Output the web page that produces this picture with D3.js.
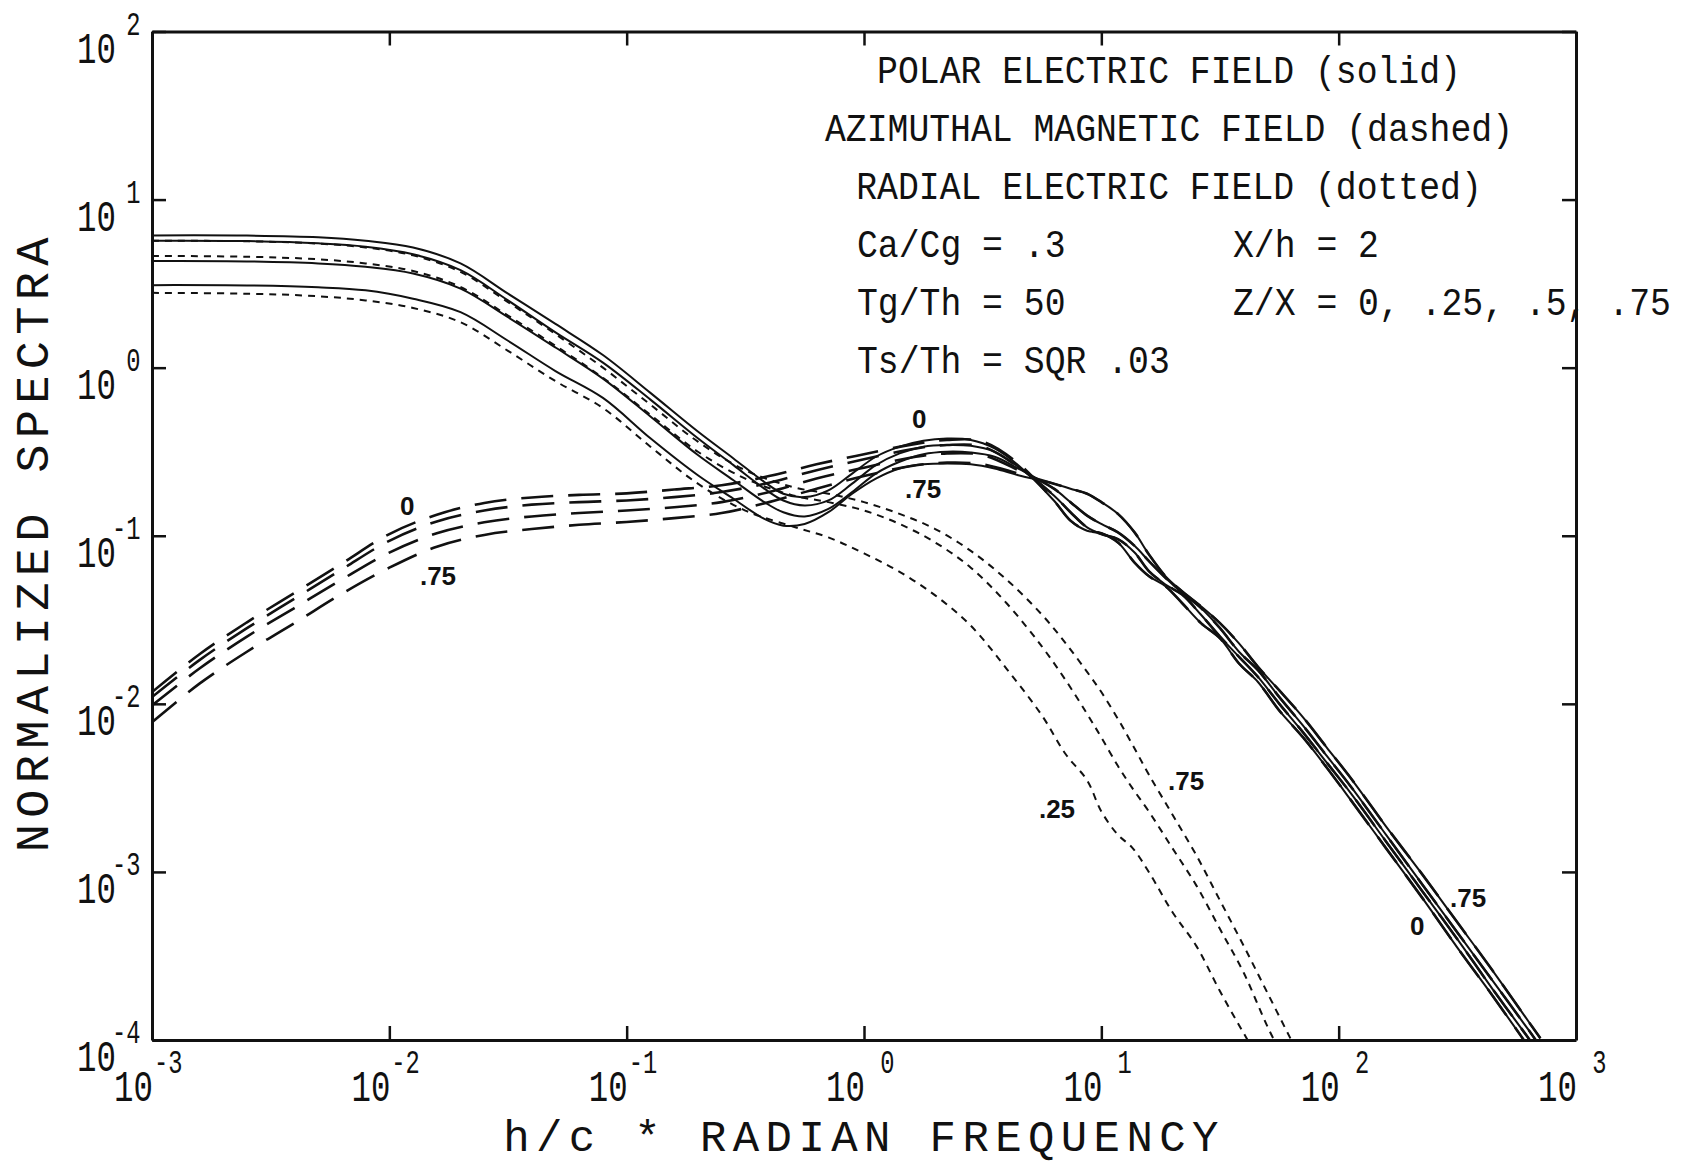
<!DOCTYPE html>
<html>
<head>
<meta charset="utf-8">
<script src="https://cdn.jsdelivr.net/npm/d3@7"></script>
<style>
  body { margin: 0; background: #fff; }
  svg { display: block; }
  .mono { font-family: "Liberation Mono", "DejaVu Sans Mono", monospace; fill: #111; }
  .tag { font-family: "Liberation Sans", Arial, sans-serif; font-weight: bold; fill: #111; }
  .axis path, .axis line { stroke: #111; }
</style>
</head>
<body>
<svg id="chart"></svg>
<script>
// all values below are log10 exponents: u = log10(h/c * w), v = log10(spectrum)
var xDecades = [-3, -2, -1, 0, 1, 2, 3];
var yDecades = [2, 1, 0, -1, -2, -3, -4];

// polar electric field (solid), Z/X = 0, .25, .5, .75
var solidLowU = [-3, -2.6, -2.3, -2.1, -1.9, -1.7, -1.5, -1.3, -1.1, -0.9, -0.7, -0.55,
                 -0.42, -0.34, -0.25, -0.15, -0.05, 0.05, 0.15, 0.25, 0.35, 0.45, 0.55, 0.65];
var solidLow0   = [0.787, 0.786, 0.776, 0.755, 0.715, 0.62, 0.44, 0.26, 0.075, -0.15, -0.38, -0.54,
                   -0.68, -0.75, -0.77, -0.73, -0.63, -0.53, -0.47, -0.435, -0.422, -0.43, -0.48, -0.58];
var solidLow25  = [0.755, 0.753, 0.74, 0.72, 0.675, 0.58, 0.40, 0.21, 0.03, -0.19, -0.42, -0.58,
                   -0.72, -0.79, -0.82, -0.79, -0.69, -0.58, -0.51, -0.47, -0.46, -0.465, -0.50, -0.59];
var solidLow50  = [0.634, 0.632, 0.62, 0.60, 0.56, 0.47, 0.30, 0.12, -0.065, -0.29, -0.52, -0.67,
                   -0.80, -0.86, -0.885, -0.84, -0.74, -0.63, -0.56, -0.515, -0.50, -0.505, -0.53, -0.60];
var solidLow75  = [0.491, 0.489, 0.478, 0.46, 0.41, 0.33, 0.16, -0.02, -0.18, -0.42, -0.64, -0.78,
                   -0.90, -0.94, -0.93, -0.86, -0.75, -0.66, -0.60, -0.575, -0.57, -0.575, -0.60, -0.64];

// above the crossing point the solid and dashed spectra share these
var highU = [0.735, 0.8, 0.87, 0.94, 1.0, 1.07, 1.14, 1.2, 1.27, 1.34, 1.42, 1.5,
             1.58, 1.66, 1.75, 1.85, 1.95, 2.05, 2.2, 2.35, 2.5, 2.65, 2.8, 2.85];
var high0  = [-0.68, -0.79, -0.91, -0.97, -0.985, -1.04, -1.16, -1.24, -1.30, -1.40, -1.52, -1.61,
              -1.76, -1.87, -2.04, -2.20, -2.38, -2.57, -2.86, -3.15, -3.45, -3.74, -4.04, -4.14];
var high25 = [-0.68, -0.76, -0.86, -0.95, -0.99, -1.02, -1.10, -1.21, -1.29, -1.35, -1.47, -1.60,
              -1.72, -1.84, -2.0, -2.17, -2.35, -2.53, -2.82, -3.11, -3.40, -3.70, -3.99, -4.09];
var high50 = [-0.68, -0.72, -0.80, -0.88, -0.93, -0.98, -1.06, -1.15, -1.25, -1.34, -1.43, -1.55,
              -1.69, -1.80, -1.96, -2.13, -2.31, -2.49, -2.78, -3.07, -3.36, -3.65, -3.94, -4.04];
var high75 = [-0.68, -0.69, -0.72, -0.75, -0.80, -0.87, -0.98, -1.11, -1.24, -1.33, -1.42, -1.52,
              -1.64, -1.78, -1.92, -2.08, -2.26, -2.44, -2.73, -3.01, -3.30, -3.59, -3.89, -3.99];

// azimuthal magnetic field (dashed)
var dashLowU = [-3, -2.8, -2.6, -2.4, -2.2, -2.0, -1.8, -1.6, -1.4, -1.2, -1.0, -0.8,
                -0.6, -0.4, -0.2, 0, 0.2, 0.35, 0.5, 0.65];
var dash0  = [-1.93, -1.705, -1.515, -1.34, -1.165, -0.99, -0.875, -0.805, -0.772, -0.757, -0.748, -0.725,
              -0.70, -0.645, -0.575, -0.515, -0.458, -0.43, -0.44, -0.57];
var dash25 = [-1.96, -1.74, -1.55, -1.375, -1.20, -1.03, -0.915, -0.85, -0.815, -0.80, -0.79, -0.77,
              -0.74, -0.685, -0.61, -0.545, -0.485, -0.46, -0.47, -0.59];
var dash50 = [-2.01, -1.79, -1.60, -1.43, -1.26, -1.10, -0.985, -0.92, -0.885, -0.865, -0.85, -0.83,
              -0.80, -0.74, -0.66, -0.595, -0.535, -0.51, -0.52, -0.61];
var dash75 = [-2.11, -1.88, -1.69, -1.52, -1.345, -1.19, -1.065, -0.995, -0.96, -0.935, -0.918, -0.895,
              -0.865, -0.80, -0.72, -0.645, -0.585, -0.565, -0.575, -0.63];

// radial electric field (dotted), Z/X = .25, .5, .75
var dotU = [-3, -2.6, -2.3, -2.1, -1.9, -1.7, -1.5, -1.3, -1.1, -0.9, -0.7, -0.5, -0.3, -0.15, 0, 0.15,
            0.3, 0.45, 0.6, 0.75, 0.85, 0.94, 1.0, 1.07, 1.13, 1.2, 1.3, 1.4, 1.5, 1.6, 1.7, 1.8];
var dot25 = [0.445, 0.44, 0.425, 0.40, 0.355, 0.27, 0.10, -0.08, -0.24, -0.47, -0.69, -0.85, -0.945, -1.01, -1.105, -1.215,
             -1.355, -1.535, -1.79, -2.07, -2.30, -2.455, -2.64, -2.78, -2.855, -3.0, -3.24, -3.44, -3.71, -3.96, -4.2, -4.4];
var dot50 = [0.665, 0.66, 0.645, 0.62, 0.575, 0.48, 0.31, 0.13, -0.06, -0.28, -0.50, -0.66, -0.76, -0.80, -0.85, -0.93,
             -1.04, -1.19, -1.40, -1.66, -1.86, -2.06, -2.20, -2.37, -2.50, -2.64, -2.86, -3.08, -3.34, -3.60, -3.92, -4.2];
var dot75 = [0.755, 0.752, 0.738, 0.715, 0.668, 0.57, 0.39, 0.20, 0.0, -0.22, -0.44, -0.61, -0.71, -0.75, -0.80, -0.87,
             -0.96, -1.09, -1.26, -1.47, -1.64, -1.81, -1.93, -2.09, -2.24, -2.42, -2.66, -2.90, -3.17, -3.44, -3.72, -4.0];

// curve tags, anchored in data space (u, v)
var tags = [
  {t: "0",   u: -1.955, v: -0.877},
  {t: ".75", u: -1.871, v: -1.294},
  {t: "0",   u: 0.202,  v: -0.359},
  {t: ".75", u: 0.173,  v: -0.776},
  {t: ".75", u: 1.281,  v: -2.514},
  {t: ".25", u: 0.737,  v: -2.680},
  {t: "0",   u: 2.301,  v: -3.376},
  {t: ".75", u: 2.469,  v: -3.209}
];

var titleLines = ["POLAR ELECTRIC FIELD (solid)",
                  "AZIMUTHAL MAGNETIC FIELD (dashed)",
                  "RADIAL ELECTRIC FIELD (dotted)"];
var paramLeft  = ["Ca/Cg = .3", "Tg/Th = 50", "Ts/Th = SQR .03"];
var paramRight = ["X/h = 2", "Z/X = 0, .25, .5, .75"];

var screen = {width: 1691, height: 1166};
var plot = {left: 152, right: 1576, top: 31.5, bottom: 1040};

var svg = d3.select("#chart")
  .attr("width", screen.width)
  .attr("height", screen.height);

var x = d3.scaleLog().domain([1e-3, 1e3]).range([plot.left, plot.right]);
var y = d3.scaleLog().domain([1e-4, 1e2]).range([plot.bottom, plot.top]);

var pow = function(e) { return Math.pow(10, e); };

var series = function(us, vs) {
  return us.map(function(u, i) { return {f: pow(u), s: pow(vs[i])}; });
};
var join = function(a, b) { return a.concat(b.slice(1)); };

svg.append("clipPath").attr("id", "plotclip")
  .append("rect")
  .attr("x", plot.left).attr("y", plot.top)
  .attr("width", plot.right - plot.left).attr("height", plot.bottom - plot.top);

var line = d3.line()
  .x(function(d) { return x(d.f); })
  .y(function(d) { return y(d.s); })
  .curve(d3.curveCatmullRom.alpha(0.5));

var curves = svg.append("g").attr("clip-path", "url(#plotclip)")
  .attr("fill", "none").attr("stroke", "#111");

var solids = [
  join(series(solidLowU, solidLow0),  series(highU, high0)),
  join(series(solidLowU, solidLow25), series(highU, high25)),
  join(series(solidLowU, solidLow50), series(highU, high50)),
  join(series(solidLowU, solidLow75), series(highU, high75))
];
var dashes = [
  join(series(dashLowU, dash0),  series(highU, high0)),
  join(series(dashLowU, dash25), series(highU, high25)),
  join(series(dashLowU, dash50), series(highU, high50)),
  join(series(dashLowU, dash75), series(highU, high75))
];
var dots = [series(dotU, dot25), series(dotU, dot50), series(dotU, dot75)];

curves.selectAll(".solid").data(solids).enter().append("path")
  .attr("class", "solid").attr("d", line).attr("stroke-width", 2);

curves.selectAll(".dashed").data(dashes).enter().append("path")
  .attr("class", "dashed").attr("d", line).attr("stroke-width", 2.6)
  .attr("stroke-dasharray", "32,15");

curves.selectAll(".dotted").data(dots).enter().append("path")
  .attr("class", "dotted").attr("d", line).attr("stroke-width", 2)
  .attr("stroke-dasharray", "7,6");

// frame and inward decade ticks on all four sides
var xVals = xDecades.map(pow), yVals = yDecades.map(pow);
var tick = 14;
var axes = [
  {ax: d3.axisBottom(x).tickValues(xVals), tr: "translate(0," + plot.bottom + ")"},
  {ax: d3.axisTop(x).tickValues(xVals),    tr: "translate(0," + plot.top + ")"},
  {ax: d3.axisLeft(y).tickValues(yVals),   tr: "translate(" + plot.left + ",0)"},
  {ax: d3.axisRight(y).tickValues(yVals),  tr: "translate(" + plot.right + ",0)"}
];
axes.forEach(function(a) {
  var g = svg.append("g").attr("class", "axis").attr("transform", a.tr)
    .call(a.ax.tickSizeInner(-tick).tickSizeOuter(0).tickFormat(""));
  g.select(".domain").attr("stroke-width", 3);
  g.selectAll(".tick line").attr("stroke-width", 2.5);
});

var text = function(parent, str, px, py, size, sx, anchor, cls) {
  return parent.append("text")
    .attr("class", cls || "mono")
    .attr("transform", "translate(" + px + "," + py + ") scale(" + sx + ",1)")
    .attr("font-size", size)
    .attr("text-anchor", anchor || "start")
    .text(str);
};

// tick labels: "10" plus a raised exponent, monospace so positives leave a sign slot
var baseSize = 45, expSize = 33, sq = 0.72;
var expSlot = expSize * 0.6 * sq;
var labels = svg.append("g");
xDecades.forEach(function(e) {
  var px = x(pow(e));
  text(labels, "10", px + 1, plot.bottom + 61, baseSize, sq, "end");
  text(labels, String(e), px + 2 + (e < 0 ? 0 : expSlot), plot.bottom + 33, expSize, sq, "start");
});
yDecades.forEach(function(e) {
  var py = y(pow(e));
  text(labels, "10", 116, py + 31, baseSize, sq, "end");
  text(labels, String(e), 112 + (e < 0 ? 0 : expSlot), py + 3, expSize, sq, "start");
});

// axis titles
svg.append("text").attr("class", "mono")
  .attr("transform", "translate(48," + ((plot.top + plot.bottom) / 2 + 6) + ") rotate(-90)")
  .attr("text-anchor", "middle")
  .attr("font-size", 47)
  .attr("letter-spacing", 6.3)
  .text("NORMALIZED SPECTRA");

svg.append("text").attr("class", "mono")
  .attr("x", (plot.left + plot.right) / 2)
  .attr("y", 1151)
  .attr("text-anchor", "middle")
  .attr("font-size", 44)
  .attr("letter-spacing", 6.4)
  .text("h/c * RADIAN FREQUENCY");

// legend block
var legend = svg.append("g");
var rowH = 58, firstBase = 83, legSize = 39.5, legSq = 0.88;
titleLines.forEach(function(s, i) {
  text(legend, s, 1169, firstBase + i * rowH, legSize, legSq, "middle");
});
paramLeft.forEach(function(s, i) {
  text(legend, s, 857, firstBase + (i + 3) * rowH, legSize, legSq, "start");
});
paramRight.forEach(function(s, i) {
  text(legend, s, 1233, firstBase + (i + 3) * rowH, legSize, legSq, "start");
});

// Z/X tags next to the curves
svg.append("g").selectAll("text").data(tags).enter().append("text")
  .attr("class", "tag")
  .attr("x", function(d) { return x(pow(d.u)); })
  .attr("y", function(d) { return y(pow(d.v)); })
  .attr("font-size", 26)
  .text(function(d) { return d.t; });
</script>
</body>
</html>
